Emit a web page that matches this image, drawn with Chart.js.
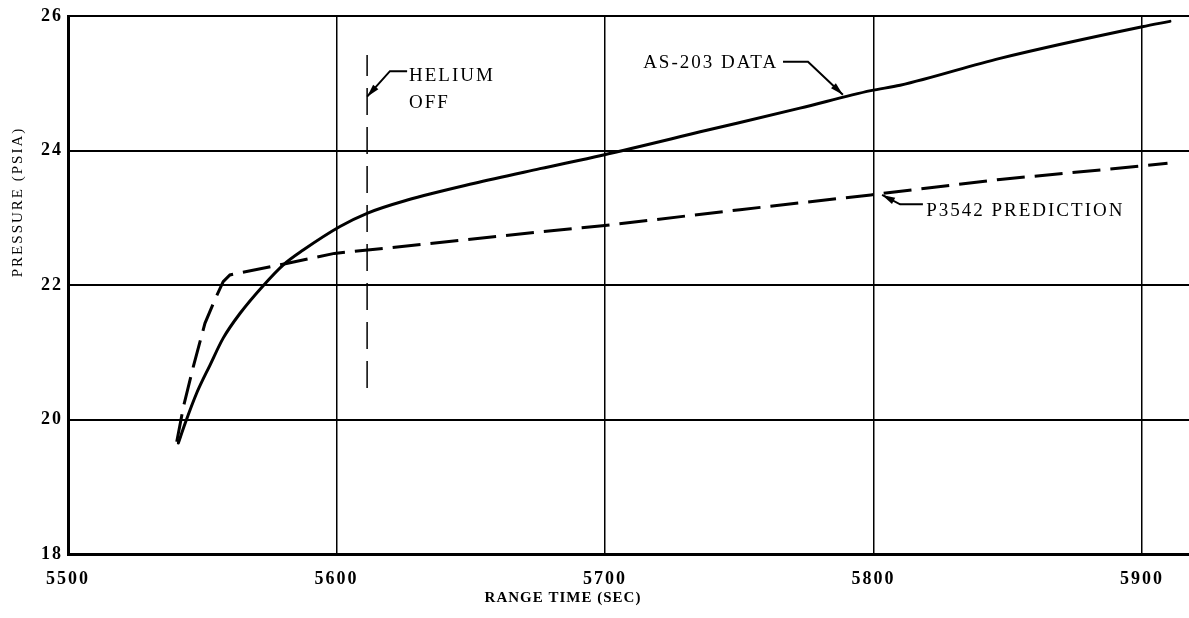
<!DOCTYPE html>
<html lang="en">
<head>
  <meta charset="UTF-8" />
  <title>AS-203 Pressure vs Range Time</title>
  <script src="https://cdn.jsdelivr.net/npm/chart.js"></script>
  <style>
    body { margin: 0; background: #fff; }
    #wrap { width: 1189px; height: 618px; position: relative; }
  </style>
</head>
<body>
  <div id="wrap"><canvas id="chart"></canvas></div>

  <script>
    // axis ticks
    const xTicks = [5500, 5600, 5700, 5800, 5900];
    const yTicks = [18, 20, 22, 24, 26];

    // AS-203 flight data (solid)
    const asTime = [5541.1, 5543.6, 5547.9, 5552.9, 5557.8, 5564.1, 5572.7, 5580.2, 5587.6,
                    5601.3, 5611.6, 5626.1, 5651, 5675.8, 5699, 5737.9, 5772.6, 5799,
                    5809.9, 5847.1, 5900.1, 5910.4];
    const asPressure = [19.65, 19.94, 20.39, 20.81, 21.21, 21.58, 21.99, 22.30, 22.52,
                        22.87, 23.07, 23.26, 23.51, 23.73, 23.93, 24.30, 24.63, 24.89,
                        24.97, 25.37, 25.84, 25.92];

    // P3542 prediction (dashed)
    const predTime = [5540.5, 5543.0, 5546.7, 5551.0, 5554.7, 5557.8, 5560.3, 5581.4,
                      5599.2, 5611.6, 5675.8, 5699, 5750.3, 5799, 5847.1, 5900.1, 5909.5];
    const predPressure = [19.67, 20.19, 20.79, 21.43, 21.78, 22.05, 22.15, 22.32,
                          22.47, 22.52, 22.79, 22.88, 23.12, 23.34, 23.57, 23.77, 23.81];

    // helium off marker
    const heliumTime = [5611.4, 5611.4];
    const heliumPressure = [20.47, 25.42];

    // callout texts and leader lines (data coordinates)
    const callouts = [
      { text: 'HELIUM', x: 5627.0, y: 25.11 },
      { text: 'OFF', x: 5627.0, y: 24.71 },
      { text: 'AS-203 DATA', x: 5714.2, y: 25.30 },
      { text: 'P3542 PREDICTION', x: 5819.6, y: 23.10 }
    ];
    const leaders = [
      [[5626.3, 25.18], [5619.9, 25.18], [5611.4, 24.80]],
      [[5766.3, 25.32], [5775.6, 25.32], [5788.6, 24.83]],
      [[5818.4, 23.20], [5809.9, 23.20], [5803.2, 23.34]]
    ];

    const serif = '"Liberation Serif", "DejaVu Serif", serif';
    const toXY = (xs, ys) => xs.map((x, i) => ({ x: x, y: ys[i] }));

    const spacing = {
      id: 'spacing',
      beforeDraw(chart) { chart.ctx.letterSpacing = '2px'; },
      afterDraw(chart) { chart.ctx.letterSpacing = '0px'; }
    };

    const notes = {
      id: 'notes',
      afterDatasetsDraw(chart) {
        const { ctx, scales: { x, y }, chartArea } = chart;
        ctx.save();
        ctx.fillStyle = '#000';
        ctx.strokeStyle = '#000';

        // leader lines with arrow heads
        ctx.lineWidth = 2;
        leaders.forEach(path => {
          const pts = path.map(p => ({ x: x.getPixelForValue(p[0]), y: y.getPixelForValue(p[1]) }));
          ctx.beginPath();
          pts.forEach((p, i) => i ? ctx.lineTo(p.x, p.y) : ctx.moveTo(p.x, p.y));
          ctx.stroke();
          const a = pts[pts.length - 2], b = pts[pts.length - 1];
          const ang = Math.atan2(b.y - a.y, b.x - a.x);
          const len = 13, w = 3.5;
          ctx.beginPath();
          ctx.moveTo(b.x, b.y);
          ctx.lineTo(b.x - len * Math.cos(ang) + w * Math.sin(ang), b.y - len * Math.sin(ang) - w * Math.cos(ang));
          ctx.lineTo(b.x - len * Math.cos(ang) - w * Math.sin(ang), b.y - len * Math.sin(ang) + w * Math.cos(ang));
          ctx.closePath();
          ctx.fill();
        });

        // callout text
        ctx.letterSpacing = '2px';
        ctx.font = '19px ' + serif;
        ctx.textAlign = 'left';
        ctx.textBaseline = 'middle';
        callouts.forEach(c => {
          ctx.fillText(c.text, x.getPixelForValue(c.x), y.getPixelForValue(c.y));
        });

        // axis titles
        ctx.textAlign = 'center';
        ctx.font = 'bold 15px ' + serif;
        ctx.letterSpacing = '1px';
        ctx.fillText('RANGE TIME (SEC)', chartArea.left + 495, chartArea.bottom + 44);

        ctx.font = '15px ' + serif;
        ctx.letterSpacing = '2px';
        ctx.translate(18, chartArea.top + 186);
        ctx.rotate(-Math.PI / 2);
        ctx.fillText('PRESSURE (PSIA)', 0, 0);
        ctx.restore();
      }
    };

    new Chart(document.getElementById('chart'), {
      type: 'line',
      data: {
        datasets: [
          {
            label: 'AS-203 DATA',
            data: toXY(asTime, asPressure),
            borderColor: '#000',
            borderWidth: 3,
            pointRadius: 0,
            cubicInterpolationMode: 'monotone',
            borderCapStyle: 'round',
            fill: false
          },
          {
            label: 'P3542 PREDICTION',
            data: toXY(predTime, predPressure),
            borderColor: '#000',
            borderWidth: 3,
            borderDash: [28, 10],
            pointRadius: 0,
            tension: 0,
            fill: false
          },
          {
            label: 'HELIUM OFF',
            data: toXY(heliumTime, heliumPressure),
            borderColor: '#000',
            borderWidth: 1.5,
            borderDash: [27, 12],
            pointRadius: 0,
            fill: false
          }
        ]
      },
      options: {
        responsive: true,
        maintainAspectRatio: false,
        animation: false,
        layout: { padding: { top: 16, right: 0, bottom: 0, left: 0 } },
        plugins: { legend: { display: false }, tooltip: { enabled: false } },
        scales: {
          x: {
            type: 'linear',
            min: 5500,
            max: 5917.5,
            afterBuildTicks: s => { s.ticks = xTicks.map(v => ({ value: v })); },
            afterFit: s => { s.height = 64; },
            grid: { color: '#000', lineWidth: 1.5, drawTicks: false },
            border: { display: true, color: '#000', width: 3 },
            ticks: {
              color: '#000',
              padding: 15,
              maxRotation: 0,
              font: { family: serif, size: 18, weight: 'bold' },
              callback: v => String(v)
            }
          },
          y: {
            type: 'linear',
            min: 18,
            max: 26,
            afterBuildTicks: s => { s.ticks = yTicks.map(v => ({ value: v })); },
            afterFit: s => { s.width = 68; },
            grid: { color: '#000', lineWidth: 2, drawTicks: false },
            border: { display: true, color: '#000', width: 3 },
            ticks: {
              color: '#000',
              padding: 5,
              font: { family: serif, size: 18, weight: 'bold' },
              callback: v => String(v)
            }
          }
        }
      },
      plugins: [spacing, notes]
    });
  </script>
</body>
</html>
